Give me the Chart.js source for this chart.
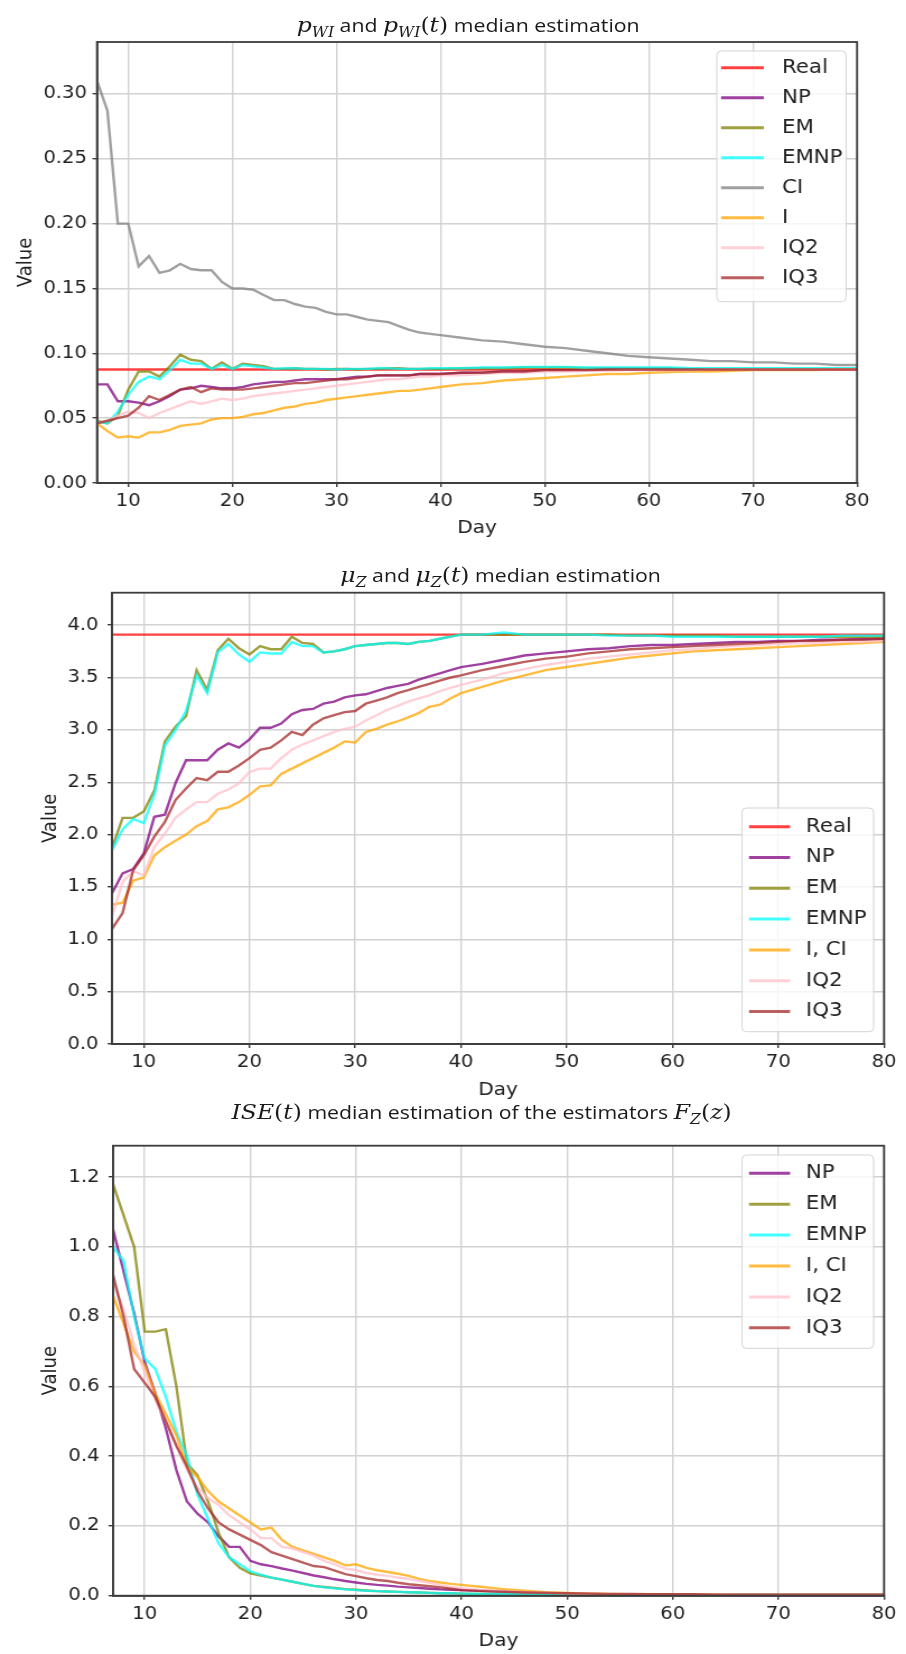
<!DOCTYPE html>
<html>
<head>
<meta charset="utf-8">
<script src="https://cdn.jsdelivr.net/npm/chart.js@4.4.1/dist/chart.umd.min.js"></script>
<style>
  html, body { margin: 0; padding: 0; background: #fff; }
  #page { position: relative; width: 906px; height: 1654px; overflow: hidden; }
  /* the reference is stretched horizontally, so every panel is too */
  .panel { position: absolute; left: 0; width: 809px; transform: scaleX(1.12); transform-origin: 0 0; }
  .panel canvas { position: absolute; left: 0; top: 0; }
  .ttl { position: absolute; white-space: nowrap; transform: translate(-50%, -50%);
         font-family: 'Open Sans', sans-serif; font-size: 19px; color: #1a1a1a; line-height: 1; }
  .m { font-family: 'DejaVu Serif', serif; font-style: italic; font-size: 21px; }
  .r { font-family: 'DejaVu Serif', serif; font-size: 21px; }
  .s { font-family: 'DejaVu Serif', serif; font-style: italic; font-size: 14px; position: relative; top: 5px; }
</style>
</head>
<body>
<div id="page">
  <div class="panel" style="top:0;height:545px">
    <canvas id="c1" width="809" height="545" style="width:809px;height:545px"></canvas>
    <div class="ttl" style="left:418px;top:25px"><span class="m">p</span><span class="s">WI</span> and <span class="m">p</span><span class="s">WI</span><span class="r">(</span><span class="m">t</span><span class="r">)</span> median estimation</div>
  </div>
  <div class="panel" style="top:545px;height:565px">
    <canvas id="c2" width="809" height="565" style="width:809px;height:565px"></canvas>
    <div class="ttl" style="left:447px;top:30px"><span class="m">μ</span><span class="s">Z</span> and <span class="m">μ</span><span class="s">Z</span><span class="r">(</span><span class="m">t</span><span class="r">)</span> median estimation</div>
  </div>
  <div class="panel" style="top:1090px;height:564px">
    <canvas id="c3" width="809" height="564" style="width:809px;height:564px"></canvas>
    <div class="ttl" style="left:430px;top:22px"><span class="m">ISE</span><span class="r">(</span><span class="m">t</span><span class="r">)</span> median estimation of the estimators <span class="m">F</span><span class="s">Z</span><span class="r">(</span><span class="m">z</span><span class="r">)</span></div>
  </div>
</div>
<script>
// ---- data ----
const days = [7, 8, 9, 10, 11, 12, 13, 14, 15, 16, 17, 18, 19, 20, 21, 22, 23, 24, 25, 26,
  27, 28, 29, 30, 31, 32, 33, 34, 35, 36, 37, 38, 39, 40,
  42, 44, 46, 48, 50, 52, 54, 56, 58, 60, 62, 64, 66, 68, 70, 72, 74, 76, 78, 80];
const realDays = [7, 80];
const xTicks = [10, 20, 30, 40, 50, 60, 70, 80];

// p_WI chart
const pTicks = [0, 0.05, 0.10, 0.15, 0.20, 0.25, 0.30];
const pReal = [0.0875, 0.0875];
const pNP = [0.076, 0.076, 0.063, 0.063, 0.062, 0.060, 0.063, 0.067, 0.072, 0.073,
  0.075, 0.074, 0.073, 0.073, 0.074, 0.076, 0.077, 0.078, 0.078, 0.079,
  0.080, 0.080, 0.080, 0.080, 0.081, 0.082, 0.082, 0.083, 0.083, 0.083,
  0.083, 0.084, 0.084, 0.084,
  0.085, 0.085, 0.086, 0.086, 0.087, 0.087, 0.087, 0.0875, 0.0875, 0.0875,
  0.0875, 0.0875, 0.0875, 0.0875, 0.0875, 0.0875, 0.0875, 0.0875, 0.0875, 0.0875];
const pEM = [0.048, 0.046, 0.052, 0.072, 0.086, 0.086, 0.082, 0.090, 0.099, 0.095,
  0.094, 0.088, 0.093, 0.088, 0.092, 0.091, 0.090, 0.088, 0.088, 0.0885,
  0.088, 0.088, 0.0875, 0.088, 0.088, 0.0875, 0.088, 0.088, 0.0885, 0.0885,
  0.088, 0.088, 0.088, 0.088,
  0.0885, 0.0885, 0.0885, 0.089, 0.089, 0.089, 0.0885, 0.0885, 0.0885, 0.0885,
  0.0885, 0.088, 0.088, 0.088, 0.088, 0.088, 0.088, 0.088, 0.088, 0.088];
const pEMNP = [0.047, 0.046, 0.055, 0.068, 0.078, 0.082, 0.080, 0.087, 0.095, 0.092,
  0.092, 0.088, 0.091, 0.088, 0.091, 0.090, 0.089, 0.088, 0.0885, 0.0885,
  0.088, 0.088, 0.088, 0.0875, 0.088, 0.088, 0.088, 0.0885, 0.0885, 0.088,
  0.088, 0.088, 0.0885, 0.0885,
  0.0885, 0.089, 0.089, 0.0895, 0.0895, 0.0895, 0.089, 0.089, 0.089, 0.089,
  0.089, 0.0885, 0.0885, 0.0885, 0.0885, 0.0885, 0.0885, 0.0885, 0.0885, 0.0885];
const pCI = [0.310, 0.287, 0.200, 0.200, 0.167, 0.175, 0.162, 0.164, 0.169, 0.165,
  0.164, 0.164, 0.155, 0.150, 0.150, 0.149, 0.145, 0.141, 0.141, 0.138,
  0.136, 0.135, 0.132, 0.130, 0.130, 0.128, 0.126, 0.125, 0.124, 0.121,
  0.118, 0.116, 0.115, 0.114,
  0.112, 0.110, 0.109, 0.107, 0.105, 0.104, 0.102, 0.100, 0.098, 0.097,
  0.096, 0.095, 0.094, 0.094, 0.093, 0.093, 0.092, 0.092, 0.091, 0.091];
const pI = [0.046, 0.040, 0.035, 0.036, 0.035, 0.039, 0.039, 0.041, 0.044, 0.045,
  0.046, 0.049, 0.050, 0.050, 0.051, 0.053, 0.054, 0.056, 0.058, 0.059,
  0.061, 0.062, 0.064, 0.065, 0.066, 0.067, 0.068, 0.069, 0.070, 0.071,
  0.071, 0.072, 0.073, 0.074,
  0.076, 0.077, 0.079, 0.080, 0.081, 0.082, 0.083, 0.084, 0.084, 0.085,
  0.0855, 0.086, 0.086, 0.0865, 0.087, 0.087, 0.087, 0.087, 0.0875, 0.0875];
const pIQ2 = [0.046, 0.048, 0.052, 0.055, 0.054, 0.050, 0.054, 0.057, 0.060, 0.063,
  0.061, 0.063, 0.065, 0.064, 0.065, 0.067, 0.068, 0.069, 0.070, 0.071,
  0.072, 0.073, 0.074, 0.075, 0.076, 0.077, 0.078, 0.079, 0.080, 0.080,
  0.081, 0.082, 0.082, 0.083,
  0.083, 0.084, 0.085, 0.085, 0.086, 0.086, 0.0865, 0.0865, 0.087, 0.087,
  0.087, 0.087, 0.0875, 0.0875, 0.0875, 0.0875, 0.0875, 0.0875, 0.0875, 0.0875];
const pIQ3 = [0.046, 0.048, 0.050, 0.052, 0.058, 0.067, 0.064, 0.068, 0.072, 0.074,
  0.070, 0.073, 0.072, 0.072, 0.072, 0.073, 0.074, 0.075, 0.076, 0.077,
  0.077, 0.078, 0.079, 0.080, 0.080, 0.081, 0.082, 0.083, 0.083, 0.083,
  0.083, 0.084, 0.084, 0.084,
  0.085, 0.085, 0.086, 0.086, 0.087, 0.087, 0.087, 0.0875, 0.0875, 0.0875,
  0.0875, 0.0875, 0.0875, 0.0875, 0.0875, 0.0875, 0.0875, 0.0875, 0.0875, 0.0875];

// mu_Z chart
const muTicks = [0, 0.5, 1.0, 1.5, 2.0, 2.5, 3.0, 3.5, 4.0];
const muReal = [3.91, 3.91];
const muNP = [1.44, 1.63, 1.67, 1.82, 2.17, 2.19, 2.49, 2.71, 2.71, 2.71,
  2.81, 2.87, 2.83, 2.91, 3.02, 3.02, 3.06, 3.15, 3.19, 3.20,
  3.25, 3.27, 3.31, 3.33, 3.34, 3.37, 3.40, 3.42, 3.44, 3.48,
  3.51, 3.54, 3.57, 3.60,
  3.63, 3.67, 3.71, 3.73, 3.75, 3.77, 3.78, 3.80, 3.81, 3.81,
  3.82, 3.83, 3.84, 3.84, 3.85, 3.85, 3.86, 3.86, 3.87, 3.87];
const muEM = [1.87, 2.16, 2.16, 2.22, 2.42, 2.89, 3.03, 3.13, 3.57, 3.38,
  3.76, 3.87, 3.78, 3.72, 3.80, 3.77, 3.77, 3.89, 3.83, 3.82,
  3.74, 3.75, 3.77, 3.80, 3.81, 3.82, 3.83, 3.83, 3.82, 3.84,
  3.85, 3.87, 3.89, 3.91,
  3.91, 3.91, 3.91, 3.91, 3.91, 3.91, 3.91, 3.90, 3.90, 3.90,
  3.90, 3.90, 3.89, 3.89, 3.89, 3.89, 3.89, 3.89, 3.89, 3.89];
const muEMNP = [1.85, 2.05, 2.15, 2.11, 2.38, 2.85, 3.00, 3.18, 3.52, 3.35,
  3.74, 3.82, 3.72, 3.65, 3.74, 3.73, 3.73, 3.84, 3.80, 3.80,
  3.74, 3.75, 3.77, 3.80, 3.81, 3.82, 3.83, 3.83, 3.82, 3.84,
  3.85, 3.87, 3.89, 3.91,
  3.91, 3.93, 3.91, 3.91, 3.91, 3.91, 3.90, 3.90, 3.90, 3.89,
  3.89, 3.89, 3.89, 3.89, 3.89, 3.89, 3.89, 3.90, 3.90, 3.90];
const muI = [1.33, 1.35, 1.56, 1.59, 1.80, 1.88, 1.94, 2.00, 2.08, 2.13,
  2.24, 2.26, 2.31, 2.38, 2.46, 2.47, 2.58, 2.63, 2.68, 2.73,
  2.78, 2.83, 2.89, 2.88, 2.98, 3.01, 3.05, 3.08, 3.12, 3.16,
  3.22, 3.24, 3.30, 3.35,
  3.41, 3.47, 3.52, 3.57, 3.60, 3.63, 3.66, 3.69, 3.71, 3.73,
  3.75, 3.76, 3.77, 3.78, 3.79, 3.80, 3.81, 3.82, 3.83, 3.84];
const muIQ2 = [1.22, 1.55, 1.65, 1.61, 1.88, 2.01, 2.16, 2.24, 2.31, 2.31,
  2.39, 2.43, 2.49, 2.60, 2.63, 2.63, 2.73, 2.81, 2.86, 2.90,
  2.94, 2.98, 3.01, 3.03, 3.09, 3.14, 3.19, 3.23, 3.27, 3.30,
  3.33, 3.37, 3.40, 3.43,
  3.48, 3.54, 3.58, 3.62, 3.65, 3.68, 3.70, 3.72, 3.74, 3.76,
  3.77, 3.79, 3.80, 3.81, 3.82, 3.83, 3.83, 3.84, 3.84, 3.85];
const muIQ3 = [1.10, 1.25, 1.66, 1.80, 1.98, 2.12, 2.33, 2.44, 2.54, 2.52,
  2.60, 2.60, 2.66, 2.73, 2.81, 2.83, 2.90, 2.98, 2.95, 3.05,
  3.11, 3.14, 3.17, 3.18, 3.25, 3.28, 3.31, 3.35, 3.38, 3.41,
  3.44, 3.47, 3.50, 3.52,
  3.57, 3.61, 3.65, 3.68, 3.70, 3.73, 3.75, 3.77, 3.78, 3.79,
  3.80, 3.81, 3.82, 3.83, 3.84, 3.85, 3.85, 3.86, 3.86, 3.87];

// ISE chart
const iseTicks = [0, 0.2, 0.4, 0.6, 0.8, 1.0, 1.2];
const iseNP = [1.05, 0.93, 0.81, 0.67, 0.58, 0.48, 0.36, 0.27, 0.235, 0.21,
  0.17, 0.14, 0.14, 0.10, 0.09, 0.085, 0.078, 0.072, 0.065, 0.058,
  0.053, 0.047, 0.042, 0.038, 0.034, 0.031, 0.029, 0.026, 0.024, 0.022,
  0.020, 0.018, 0.017, 0.016,
  0.014, 0.012, 0.010, 0.008, 0.006, 0.005, 0.004, 0.004, 0.003, 0.003,
  0.002, 0.002, 0.002, 0.002, 0.002, 0.002, 0.002, 0.002, 0.002, 0.002];
const iseEM = [1.18, 1.09, 1.00, 0.757, 0.757, 0.764, 0.60, 0.38, 0.345, 0.27,
  0.18, 0.11, 0.08, 0.064, 0.058, 0.052, 0.046, 0.040, 0.034, 0.028,
  0.025, 0.022, 0.019, 0.017, 0.015, 0.013, 0.012, 0.011, 0.010, 0.009,
  0.008, 0.007, 0.007, 0.006,
  0.005, 0.005, 0.004, 0.004, 0.003, 0.003, 0.003, 0.002, 0.002, 0.002,
  0.002, 0.002, 0.002, 0.002, 0.002, 0.002, 0.002, 0.002, 0.002, 0.002];
const iseEMNP = [1.00, 0.96, 0.80, 0.68, 0.65, 0.57, 0.47, 0.40, 0.29, 0.22,
  0.15, 0.11, 0.09, 0.07, 0.06, 0.052, 0.046, 0.040, 0.034, 0.028,
  0.024, 0.021, 0.018, 0.016, 0.014, 0.013, 0.012, 0.011, 0.010, 0.009,
  0.008, 0.007, 0.007, 0.006,
  0.005, 0.005, 0.004, 0.004, 0.003, 0.003, 0.003, 0.002, 0.002, 0.002,
  0.002, 0.002, 0.002, 0.002, 0.002, 0.002, 0.002, 0.002, 0.002, 0.002];
const iseI = [0.86, 0.78, 0.70, 0.66, 0.58, 0.52, 0.46, 0.37, 0.34, 0.30,
  0.27, 0.25, 0.23, 0.21, 0.19, 0.195, 0.16, 0.14, 0.13, 0.12,
  0.11, 0.10, 0.087, 0.09, 0.08, 0.073, 0.068, 0.063, 0.057, 0.048,
  0.042, 0.038, 0.034, 0.031,
  0.025, 0.019, 0.014, 0.010, 0.008, 0.006, 0.005, 0.004, 0.004, 0.003,
  0.003, 0.003, 0.002, 0.002, 0.002, 0.002, 0.002, 0.002, 0.002, 0.002];
const iseIQ2 = [0.90, 0.82, 0.72, 0.64, 0.56, 0.50, 0.43, 0.36, 0.31, 0.28,
  0.26, 0.23, 0.21, 0.19, 0.165, 0.165, 0.14, 0.135, 0.125, 0.115,
  0.10, 0.09, 0.078, 0.073, 0.065, 0.06, 0.057, 0.052, 0.048, 0.042,
  0.037, 0.030, 0.025, 0.022,
  0.016, 0.012, 0.010, 0.008, 0.006, 0.005, 0.004, 0.004, 0.003, 0.003,
  0.003, 0.002, 0.002, 0.002, 0.002, 0.002, 0.002, 0.002, 0.002, 0.002];
const iseIQ3 = [0.92, 0.80, 0.65, 0.61, 0.57, 0.50, 0.43, 0.37, 0.30, 0.25,
  0.21, 0.19, 0.175, 0.16, 0.145, 0.125, 0.115, 0.105, 0.095, 0.085,
  0.082, 0.072, 0.062, 0.056, 0.050, 0.045, 0.042, 0.037, 0.033, 0.030,
  0.027, 0.024, 0.020, 0.016,
  0.013, 0.011, 0.009, 0.008, 0.007, 0.006, 0.005, 0.005, 0.004, 0.004,
  0.004, 0.003, 0.003, 0.003, 0.003, 0.003, 0.003, 0.003, 0.003, 0.003];

// ---- styling ----
const FONT = "'DejaVu Sans', sans-serif";
const INK = '#222';
const AXIS = '#3c3c3c';
const GRID = '#d2d2d2';
const col = {
  Real: 'rgba(255,0,0,0.75)',
  NP: 'rgba(128,0,128,0.75)',
  EM: 'rgba(128,128,0,0.75)',
  EMNP: 'rgba(0,255,255,0.75)',
  CI: 'rgba(128,128,128,0.75)',
  I: 'rgba(255,165,0,0.75)',
  IQ2: 'rgba(255,192,203,0.75)',
  IQ3: 'rgba(165,42,42,0.75)'
};

function line(label, color, xs, ys) {
  return {
    label: label,
    data: ys.map((y, i) => ({ x: xs[i], y: y })),
    borderColor: color,
    backgroundColor: color,
    borderWidth: 2.4,
    pointRadius: 0,
    tension: 0,
    fill: false
  };
}

// legend box drawn inside the plot, like matplotlib's
const boxLegend = {
  id: 'boxLegend',
  afterDatasetsDraw(chart, args, o) {
    const ctx = chart.ctx;
    ctx.save();
    ctx.beginPath();
    ctx.roundRect(o.x, o.y, o.w, o.h, 4);
    ctx.fillStyle = 'rgba(255,255,255,0.8)';
    ctx.fill();
    ctx.strokeStyle = '#d4d4d4';
    ctx.lineWidth = 1;
    ctx.stroke();
    ctx.font = '19px ' + FONT;
    ctx.textBaseline = 'middle';
    chart.data.datasets.forEach((ds, i) => {
      const y = o.first + i * o.gap;
      ctx.strokeStyle = ds.borderColor;
      ctx.lineWidth = 3;
      ctx.beginPath();
      ctx.moveTo(o.lx0, y);
      ctx.lineTo(o.lx1, y);
      ctx.stroke();
      ctx.fillStyle = INK;
      ctx.fillText(ds.label, o.tx, y);
    });
    ctx.restore();
  }
};

const frame = {
  id: 'frame',
  afterDraw(chart) {
    const a = chart.chartArea, ctx = chart.ctx;
    ctx.save();
    ctx.strokeStyle = AXIS;
    ctx.lineWidth = 1.8;
    ctx.strokeRect(a.left, a.top, a.right - a.left, a.bottom - a.top);
    ctx.restore();
  }
};

function noPad(s) { s.paddingLeft = 0; s.paddingRight = 0; s.paddingTop = 0; s.paddingBottom = 0; }

function makeChart(id, sets, yMax, yTicks, dec, lay, legend) {
  return new Chart(document.getElementById(id), {
    type: 'line',
    data: { datasets: sets.map((d, i) => Object.assign(d, { order: sets.length - i })) },
    options: {
      responsive: false,
      animation: false,
      devicePixelRatio: 1,
      layout: { padding: { left: 0, top: lay.top, right: lay.right, bottom: 0 } },
      plugins: { legend: { display: false }, tooltip: { enabled: false }, boxLegend: legend },
      scales: {
        x: {
          type: 'linear', min: 7, max: 80,
          afterBuildTicks: s => { s.ticks = xTicks.map(v => ({ value: v })); },
          afterFit: s => { s.height = lay.xh; noPad(s); },
          grid: { color: GRID, lineWidth: 1.4, tickLength: 4, tickColor: AXIS },
          border: { display: true, color: AXIS, width: 1.8 },
          ticks: { color: INK, font: { family: FONT, size: 17.5 }, padding: 4, maxRotation: 0,
                   callback: v => String(v) },
          title: { display: true, text: 'Day', color: INK, font: { family: FONT, size: 18 },
                   padding: { top: 0, bottom: lay.dayPad } }
        },
        y: {
          min: 0, max: yMax,
          afterBuildTicks: s => { s.ticks = yTicks.map(v => ({ value: v })); },
          afterFit: s => { s.width = lay.yw; noPad(s); },
          grid: { color: GRID, lineWidth: 1.4, tickLength: 4, tickColor: AXIS },
          border: { display: true, color: AXIS, width: 1.8 },
          ticks: { color: INK, font: { family: FONT, size: 17.5 }, padding: lay.ytp,
                   callback: v => v.toFixed(dec) },
          title: { display: true, text: 'Value', color: INK, font: { family: FONT, size: 18 },
                   padding: { top: lay.valPad, bottom: 0 } }
        }
      }
    },
    plugins: [boxLegend, frame]
  });
}

makeChart('c1', [
  line('Real', col.Real, realDays, pReal),
  line('NP', col.NP, days, pNP),
  line('EM', col.EM, days, pEM),
  line('EMNP', col.EMNP, days, pEMNP),
  line('CI', col.CI, days, pCI),
  line('I', col.I, days, pI),
  line('IQ2', col.IQ2, days, pIQ2),
  line('IQ3', col.IQ3, days, pIQ3)
], 0.34, pTicks, 2,
  { top: 42, right: 43.8, xh: 62, yw: 86.6, ytp: 5, valPad: 12.4, dayPad: 6.2 },
  { x: 640, y: 51, w: 115.4, h: 250.7, first: 67.7, gap: 30, lx0: 643.8, lx1: 682, tx: 698.2 });

makeChart('c2', [
  line('Real', col.Real, realDays, muReal),
  line('NP', col.NP, days, muNP),
  line('EM', col.EM, days, muEM),
  line('EMNP', col.EMNP, days, muEMNP),
  line('I, CI', col.I, days, muI),
  line('IQ2', col.IQ2, days, muIQ2),
  line('IQ3', col.IQ3, days, muIQ3)
], 4.31, muTicks, 1,
  { top: 47.7, right: 19.7, xh: 66, yw: 100, ytp: 8, valPad: 34.7, dayPad: 9.2 },
  { x: 662.5, y: 263, w: 117.5, h: 223.7, first: 281.7, gap: 30.8, lx0: 668.8, lx1: 705.4, tx: 719.6 });

makeChart('c3', [
  line('NP', col.NP, days, iseNP),
  line('EM', col.EM, days, iseEM),
  line('EMNP', col.EMNP, days, iseEMNP),
  line('I, CI', col.I, days, iseI),
  line('IQ2', col.IQ2, days, iseIQ2),
  line('IQ3', col.IQ3, days, iseIQ3)
], 1.29, iseTicks, 1,
  { top: 55.7, right: 19.7, xh: 58.3, yw: 100.9, ytp: 8, valPad: 34.7, dayPad: 2.2 },
  { x: 662.5, y: 65, w: 117.5, h: 193.3, first: 83.3, gap: 30.9, lx0: 668.8, lx1: 705.4, tx: 719.6 });
</script>
</body>
</html>
